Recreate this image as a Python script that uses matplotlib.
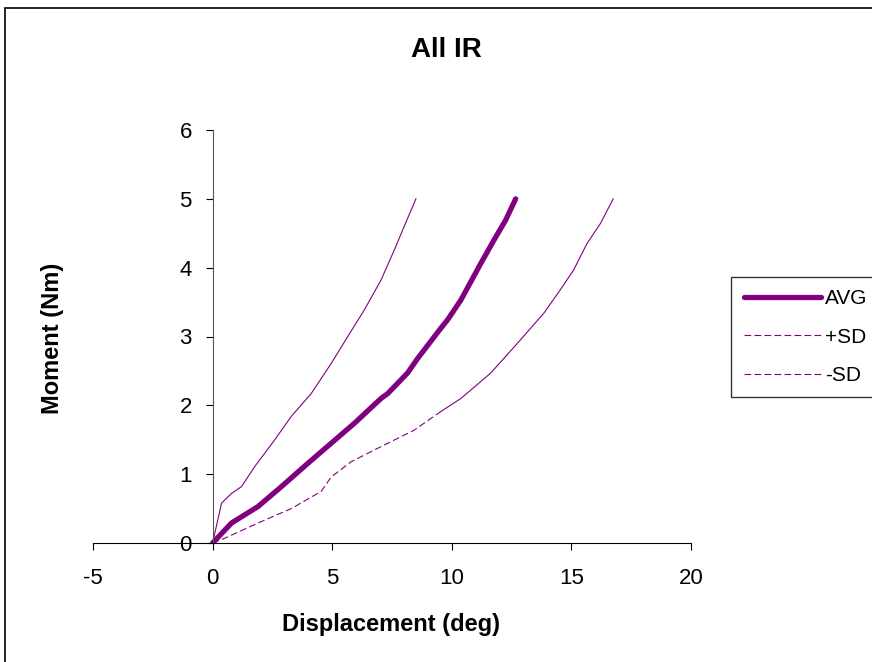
import matplotlib
matplotlib.use("Agg")
import matplotlib.pyplot as plt
from matplotlib.lines import Line2D
from matplotlib.patches import Rectangle

plt.rcParams['font.family'] = ['Liberation Sans', 'DejaVu Sans']
plt.rcParams['axes.unicode_minus'] = False

# values
avg_x = [0, 0.79, 1.9, 2.88, 3.99, 4.96, 5.93, 7.04, 7.32, 8.15, 8.57, 9.54, 9.82,
         10.38, 11.21, 11.76, 12.25, 12.67]
avg_y = [0, 0.29, 0.53, 0.82, 1.16, 1.45, 1.74, 2.10, 2.17, 2.47, 2.68, 3.12, 3.24,
         3.53, 4.06, 4.40, 4.69, 5.0]

plus_x = [0, 0.375, 0.79, 1.21, 1.76, 2.6, 3.29, 4.12, 4.96, 5.65, 6.35, 7.04, 7.6,
          8.01, 8.5]
plus_y = [0, 0.58, 0.72, 0.82, 1.11, 1.50, 1.84, 2.17, 2.61, 3.0, 3.39, 3.82, 4.26,
          4.60, 5.0]

minus_x = [0, 0.51, 1.9, 3.29, 4.54, 4.96, 5.79, 7.04, 8.43, 9.54, 10.38, 11.63,
           12.74, 13.85, 14.54, 15.1, 15.65, 16.21, 16.75]
minus_y = [0, 0.07, 0.29, 0.50, 0.75, 0.96, 1.18, 1.40, 1.64, 1.91, 2.10, 2.47,
           2.90, 3.34, 3.68, 3.97, 4.35, 4.64, 5.0]

x_ticks = [-5, 0, 5, 10, 15, 20]
y_ticks = [0, 1, 2, 3, 4, 5, 6]

purple = '#800080'

fig = plt.figure(figsize=(8.72, 6.62), dpi=100)
ax = fig.add_axes([93 / 872, 1 - 543 / 662, 598 / 872, 413 / 662])

ax.plot(avg_x, avg_y, color=purple, lw=3.8, solid_capstyle='round')
ax.plot(plus_x, plus_y, color=purple, lw=0.8)
# lower SD line: dashed near the origin, nearly solid further up
ax.plot(minus_x[:10], minus_y[:10], color=purple, lw=0.8, dashes=(6, 3))
ax.plot(minus_x[9:], minus_y[9:], color=purple, lw=0.8)

ax.set_xlim(-5, 20)
ax.set_ylim(0, 6)
ax.set_xticks(x_ticks)
ax.set_yticks(y_ticks)
ax.spines['top'].set_visible(False)
ax.spines['right'].set_visible(False)
ax.spines['left'].set_position(('data', 0))
ax.spines['left'].set_color('#555555')
ax.tick_params(axis='both', labelsize=16, length=5, width=0.8, direction='out')
ax.tick_params(axis='x', pad=13)
ax.tick_params(axis='y', pad=10)
ax.patch.set_visible(False)

fig.text(446 / 872, 1 - 50 / 662, 'All IR', fontsize=20, fontweight='bold',
         ha='center', va='center')
fig.text(391 / 872, 1 - 625 / 662, 'Displacement (deg)', fontsize=17,
         fontweight='bold', ha='center', va='center')
fig.text(52 / 872, 1 - 338 / 662, 'Moment (Nm)', fontsize=17, fontweight='bold',
         ha='center', va='center', rotation=90)

handles = [Line2D([], [], color=purple, lw=3.8, solid_capstyle='round'),
           Line2D([], [], color=purple, lw=0.8, dashes=(6, 3)),
           Line2D([], [], color=purple, lw=0.8, dashes=(6, 3))]
leg = fig.legend(handles, ['AVG', '+SD', '-SD'], loc='upper left',
                 bbox_to_anchor=(731 / 872, 1 - 277 / 662), borderaxespad=0,
                 fontsize=15, frameon=True, fancybox=False, handlelength=3.7,
                 handletextpad=0.2, labelspacing=0.92, borderpad=0.6)
leg.get_frame().set_edgecolor('black')
leg.get_frame().set_linewidth(1.0)

fig.patches.append(Rectangle((5 / 872, -0.05), 1.0, 1.05 - 8 / 662,
                             transform=fig.transFigure, fill=False,
                             edgecolor='black', lw=1.2))

fig.savefig('out.png', dpi=100)
